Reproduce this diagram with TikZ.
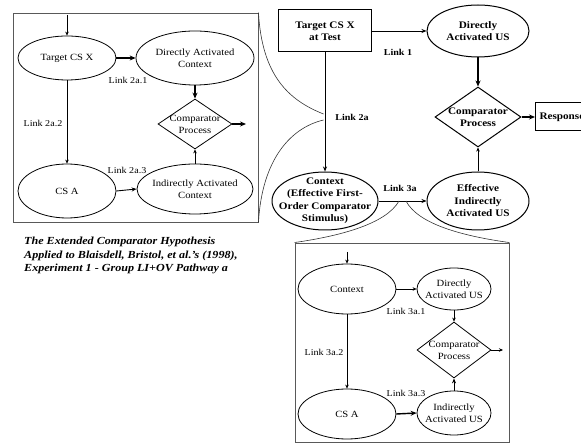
\documentclass[tikz,border=0pt]{standalone}
\usepackage{fontspec}
\setmainfont[FakeStretch=1.12]{Liberation Serif}
\usetikzlibrary{shapes.geometric,arrows.meta}

\begin{document}
\begin{tikzpicture}[x=1pt,y=-1pt,
  every node/.style={inner sep=0pt},
  ell/.style={draw,ellipse,line width=0.8pt},
  mell/.style={draw,ellipse,line width=1pt},
  dia/.style={draw,diamond,line width=0.8pt},
  mdia/.style={draw,diamond,line width=1pt},
  rbox/.style={draw,rectangle,line width=1pt,align=center,font=\mainbold},
  inset/.style={draw=black!65,rectangle,line width=0.9pt},
  txt/.style={align=center,font=\fontsize{9.5}{12}\selectfont},
  btxt/.style={align=center,font=\mainbold},
  lnk/.style={font=\fontsize{9}{11}\selectfont},
  blnk/.style={font=\fontsize{9}{11}\selectfont\bfseries},
  arrthin/.style={line width=0.6pt,-{Stealth[length=4pt,width=3.5pt]}},
  arrmid/.style={line width=0.9pt,-{Stealth[length=5pt,width=4pt]}},
  arrthick/.style={line width=1.4pt,-{Stealth[length=6pt,width=5pt]}},
  zoomline/.style={line width=0.6pt,black!80},
]
\providecommand\mainbold{\fontsize{10}{12.5}\selectfont\bfseries}
\useasboundingbox (0,0) rectangle (581,443);
\clip (0,0) rectangle (581,443);

% ---------- upper-left detail: Link 2a ----------
\node[inset,minimum width=245,minimum height=209] (boxA) at (135.5,117.5) {};
\coordinate (inA) at (67,15);
\node[ell,minimum width=98,minimum height=44,label={[txt]center:Target CS X}] (txA) at (67,58) {};
\node[ell,minimum width=118,minimum height=54,label={[txt]center:Directly Activated\\Context}] (dacA) at (195,58) {};
\node[dia,minimum width=74,minimum height=50] (cmpA) at (195,124) {};
\node[txt] (cmpAt) at (cmpA) {Comparator\\Process};
\coordinate (outA) at (246,124);
\node[ell,minimum width=116,minimum height=50,label={[txt]center:Indirectly Activated\\Context}] (iacA) at (195,189) {};
\node[ell,minimum width=98,minimum height=54,label={[txt]center:CS A}] (csaA) at (67,191) {};

\draw[arrthin] (inA) -- (txA.north);
\draw[arrthick] (txA.east) -- (dacA.west);
\draw[arrthick] (dacA.south) -- (cmpA.north);
\draw[arrthick] (cmpA.east) -- (outA);
\draw[arrthin] (txA.south) -- (csaA.north);
\draw[arrmid] (csaA.east) -- (iacA.west);
\draw[arrthin] (iacA.north) -- (cmpA.south);

\node[lnk] (l2a1) at (128,80) {Link 2a.1};
\node[lnk] (l2a2) at (43,123) {Link 2a.2};
\node[lnk] (l2a3) at (127,170) {Link 2a.3};

\node[anchor=north west,align=left,font=\fontsize{10.8}{13.5}\selectfont\bfseries\itshape] (capA) at (24,237)
  {The Extended Comparator Hypothesis\\Applied to Blaisdell, Bristol, et al.'s (1998),\\Experiment 1 - Group LI+OV Pathway a};

% ---------- main pathway ----------
\node[rbox,minimum width=93,minimum height=42] (test) at (325,31) {Target CS X\\at Test};
\node[mell,minimum width=102,minimum height=52,label={[btxt]center:Directly\\Activated US}] (dus) at (478,31) {};
\node[mdia,minimum width=86,minimum height=60] (cmp) at (478,117) {};
\node[btxt] (cmpt) at (cmp) {Comparator\\Process};
\node[rbox,anchor=west,minimum height=28,inner xsep=4pt] (resp) at (535,117) {Response};
\node[mell,minimum width=102,minimum height=58,label={[btxt]center:Effective\\Indirectly\\Activated US}] (eus) at (478,201) {};
\node[mell,minimum width=106,minimum height=58,label={[btxt]center:Context\\(Effective First-\\Order Comparator\\Stimulus)}] (ctx) at (325,201) {};

\draw[arrmid] (test.east) -- (dus.west);
\draw[arrthick] (dus.south) -- (cmp.north);
\draw[arrthick] (cmp.east) -- (resp.west);
\draw[arrthin] (eus.north) -- (cmp.south);
\draw[arrmid] (test.south) -- (ctx.north);
\draw[arrmid] (ctx.east) -- (eus.west);

\node[blnk] (l1) at (398,52) {Link 1};
\node[blnk] (l2a) at (352,117) {Link 2a};
\node[blnk] (l3a) at (400,188) {Link 3a};

% zoom lines from the Link 2a arrow to the upper-left detail
\coordinate (zA1) at (323.5,114);
\coordinate (zA2) at (323.5,120);
\draw[zoomline] (boxA.north east) .. controls (262,75) and (288,100) .. (zA1);
\draw[zoomline] (zA2) .. controls (290,128) and (262,160) .. (boxA.south east);

% ---------- lower detail: Link 3a ----------
\node[inset,minimum width=214,minimum height=199] (boxB) at (402,342.5) {};
\coordinate (zB1) at (399,201);
\coordinate (zB2) at (406,201);
\draw[zoomline] (zB1) .. controls (386,224) and (340,236) .. (boxB.north west);
\draw[zoomline] (zB2) .. controls (418,224) and (462,236) .. (boxB.north east);

\coordinate (inB) at (347,252);
\node[ell,minimum width=98,minimum height=50,label={[txt]center:Context}] (ctxB) at (347,289) {};
\node[ell,minimum width=74,minimum height=42,label={[txt]center:Directly\\Activated US}] (dusB) at (454,289) {};
\node[dia,minimum width=74,minimum height=56] (cmpB) at (454,350) {};
\node[txt] (cmpBt) at (cmpB) {Comparator\\Process};
\coordinate (outB) at (503,350);
\node[ell,minimum width=74,minimum height=44,label={[txt]center:Indirectly\\Activated US}] (iusB) at (454,413) {};
\node[ell,minimum width=98,minimum height=50,label={[txt]center:CS A}] (csaB) at (347,414) {};

\draw[arrthin] (inB) -- (ctxB.north);
\draw[arrthin] (ctxB.east) -- (dusB.west);
\draw[arrthin] (dusB.south) -- (cmpB.north);
\draw[arrthin] (cmpB.east) -- (outB);
\draw[arrthin] (ctxB.south) -- (csaB.north);
\draw[arrthick] (csaB.east) -- (iusB.west);
\draw[arrmid] (iusB.north) -- (cmpB.south);

\node[lnk] (l3a1) at (406,311) {Link 3a.1};
\node[lnk] (l3a2) at (324,352) {Link 3a.2};
\node[lnk] (l3a3) at (406,393) {Link 3a.3};
\end{tikzpicture}
\end{document}
